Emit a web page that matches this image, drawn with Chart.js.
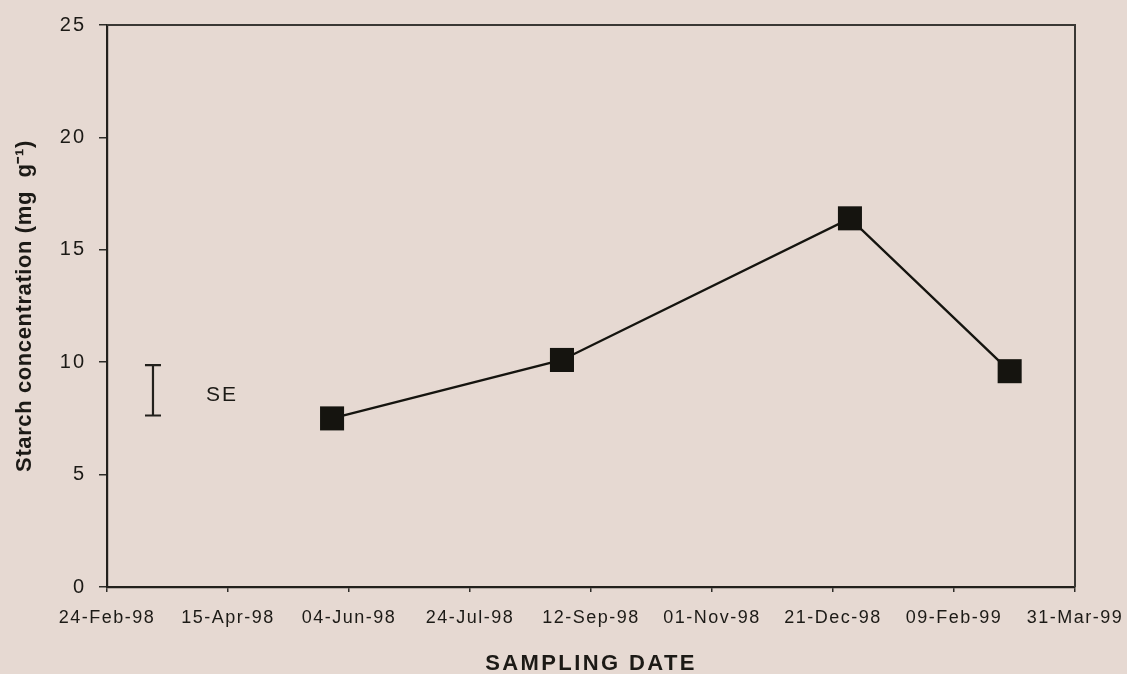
<!DOCTYPE html>
<html>
<head>
<meta charset="utf-8">
<title>Starch concentration by sampling date</title>
<script src="https://cdn.jsdelivr.net/npm/chart.js@4/dist/chart.umd.min.js"></script>
<style>
  html, body { margin: 0; padding: 0; background: #e6d9d2; }
  canvas { display: block; }
</style>
</head>
<body>
<canvas id="chart" width="1127" height="674"></canvas>
<script>
// Sampling dates and starch concentration (mg g-1)
const sampleDates = ['1998-05-28', '1998-08-31', '1998-12-28', '1999-03-04'];
const starch = [7.5, 10.1, 16.4, 9.6];

// Date axis: starts 24-Feb-98, a tick every 50 days
const axisStart = '1998-02-24';
const tickStepDays = 50;
const tickLabels = ['24-Feb-98', '15-Apr-98', '04-Jun-98', '24-Jul-98', '12-Sep-98',
                    '01-Nov-98', '21-Dec-98', '09-Feb-99', '31-Mar-99'];
const yTicks = [0, 5, 10, 15, 20, 25];

// Standard error bar shown beside the series
const seDate = '1998-03-15';
const seMean = 8.75;
const seHalf = 1.12;
const seLabel = 'SE';

const DAY = 86400000;
const dayOf = s => Math.round((Date.parse(s) - Date.parse(axisStart)) / DAY);
const points = sampleDates.map((d, i) => ({ x: dayOf(d), y: starch[i] }));

const FONT = '"Liberation Sans", Arial, Helvetica, sans-serif';
const INK = '#15140f';
const TEXT = '#1c1a16';
const BG = '#e6d9d2';

// Letter spacing for tick labels / titles of each axis
const spacing = {
  x: { labels: '1.5px', title: '2.4px' },
  y: { labels: '2px', title: '0.6px' }
};

const spacingPlugin = {
  id: 'spacing',
  afterLayout(chart) {
    const ctx = chart.ctx;
    ['x', 'y'].forEach(id => {
      const sc = chart.scales[id];
      if (sc._spaced) return;
      sc._spaced = true;
      const origLabels = sc.drawLabels;
      const origTitle = sc.drawTitle;
      sc.drawLabels = function (a) {
        ctx.save(); ctx.letterSpacing = spacing[id].labels;
        origLabels.call(this, a); ctx.restore();
      };
      sc.drawTitle = function (a) {
        ctx.save(); ctx.letterSpacing = spacing[id].title;
        origTitle.call(this, a); ctx.restore();
      };
    });
  }
};

const backgroundPlugin = {
  id: 'paper',
  beforeDraw(chart) {
    const ctx = chart.ctx;
    ctx.save();
    ctx.fillStyle = BG;
    ctx.fillRect(0, 0, chart.width, chart.height);
    ctx.restore();
  }
};

// Top and right edges of the plot frame
const framePlugin = {
  id: 'frame',
  afterDraw(chart) {
    const { ctx, chartArea: a } = chart;
    ctx.save();
    ctx.strokeStyle = '#3a3834';
    ctx.lineWidth = 2;
    ctx.beginPath();
    ctx.moveTo(a.left, a.top);
    ctx.lineTo(a.right, a.top);
    ctx.lineTo(a.right, a.bottom);
    ctx.stroke();
    ctx.restore();
  }
};

// SE bar with caps and its label
const sePlugin = {
  id: 'seBar',
  afterDatasetsDraw(chart) {
    const { ctx, scales } = chart;
    const x = scales.x.getPixelForValue(dayOf(seDate));
    const yTop = scales.y.getPixelForValue(seMean + seHalf);
    const yBot = scales.y.getPixelForValue(seMean - seHalf);
    const yMid = scales.y.getPixelForValue(seMean);
    const cap = 8;
    ctx.save();
    ctx.strokeStyle = '#22201c';
    ctx.lineWidth = 2.2;
    ctx.beginPath();
    ctx.moveTo(x, yTop); ctx.lineTo(x, yBot);
    ctx.moveTo(x - cap, yTop); ctx.lineTo(x + cap, yTop);
    ctx.moveTo(x - cap, yBot); ctx.lineTo(x + cap, yBot);
    ctx.stroke();
    ctx.fillStyle = TEXT;
    ctx.font = '21px ' + FONT;
    ctx.letterSpacing = '2px';
    ctx.textAlign = 'left';
    ctx.textBaseline = 'middle';
    ctx.fillText(seLabel, x + 53, yMid + 5);
    ctx.restore();
  }
};

new Chart(document.getElementById('chart'), {
  type: 'line',
  data: {
    datasets: [{
      data: points,
      borderColor: INK,
      borderWidth: 2.4,
      backgroundColor: INK,
      pointStyle: 'rect',
      pointRadius: 17,
      pointHoverRadius: 17,
      pointBorderWidth: 0,
      pointBackgroundColor: INK,
      tension: 0,
      clip: false
    }]
  },
  options: {
    responsive: false,
    animation: false,
    events: [],
    layout: { padding: { top: 22, right: 52, left: 0, bottom: 0 } },
    plugins: { legend: { display: false }, tooltip: { enabled: false } },
    scales: {
      x: {
        type: 'linear',
        min: 0,
        max: tickStepDays * (tickLabels.length - 1),
        afterBuildTicks(scale) {
          scale.ticks = tickLabels.map((_, i) => ({ value: i * tickStepDays }));
        },
        afterFit(scale) {
          scale.height = 87;
          // end labels may overhang into the page margin
          scale.paddingLeft = 0;
          scale.paddingRight = 0;
        },
        grid: {
          drawOnChartArea: false,
          drawTicks: true,
          tickLength: 5,
          color: '#2e2c28',
          lineWidth: 1.5
        },
        border: { display: true, color: '#22201c', width: 2.2 },
        ticks: {
          autoSkip: false,
          maxRotation: 0,
          minRotation: 0,
          padding: 15,
          color: TEXT,
          font: { family: FONT, size: 18 },
          callback: (v, i) => tickLabels[i]
        },
        title: {
          display: true,
          text: 'SAMPLING DATE',
          color: TEXT,
          font: { family: FONT, size: 22, weight: 'bold', lineHeight: 0.9 },
          padding: { top: 0, bottom: 0 }
        }
      },
      y: {
        type: 'linear',
        min: 0,
        max: 25,
        afterBuildTicks(scale) {
          scale.ticks = yTicks.map(v => ({ value: v }));
        },
        afterFit(scale) { scale.width = 107; },
        grid: {
          drawOnChartArea: false,
          drawTicks: true,
          tickLength: 8,
          color: '#2e2c28',
          lineWidth: 1.5
        },
        border: { display: true, color: '#22201c', width: 2.2 },
        ticks: {
          padding: 13,
          color: TEXT,
          font: { family: FONT, size: 20 }
        },
        title: {
          display: true,
          text: 'Starch concentration (mg  g\u207B\u00B9)',
          color: TEXT,
          font: { family: FONT, size: 22, weight: 'bold', lineHeight: 1.2 },
          padding: { top: 12, bottom: 0 }
        }
      }
    }
  },
  plugins: [backgroundPlugin, spacingPlugin, sePlugin, framePlugin]
});
</script>
</body>
</html>
